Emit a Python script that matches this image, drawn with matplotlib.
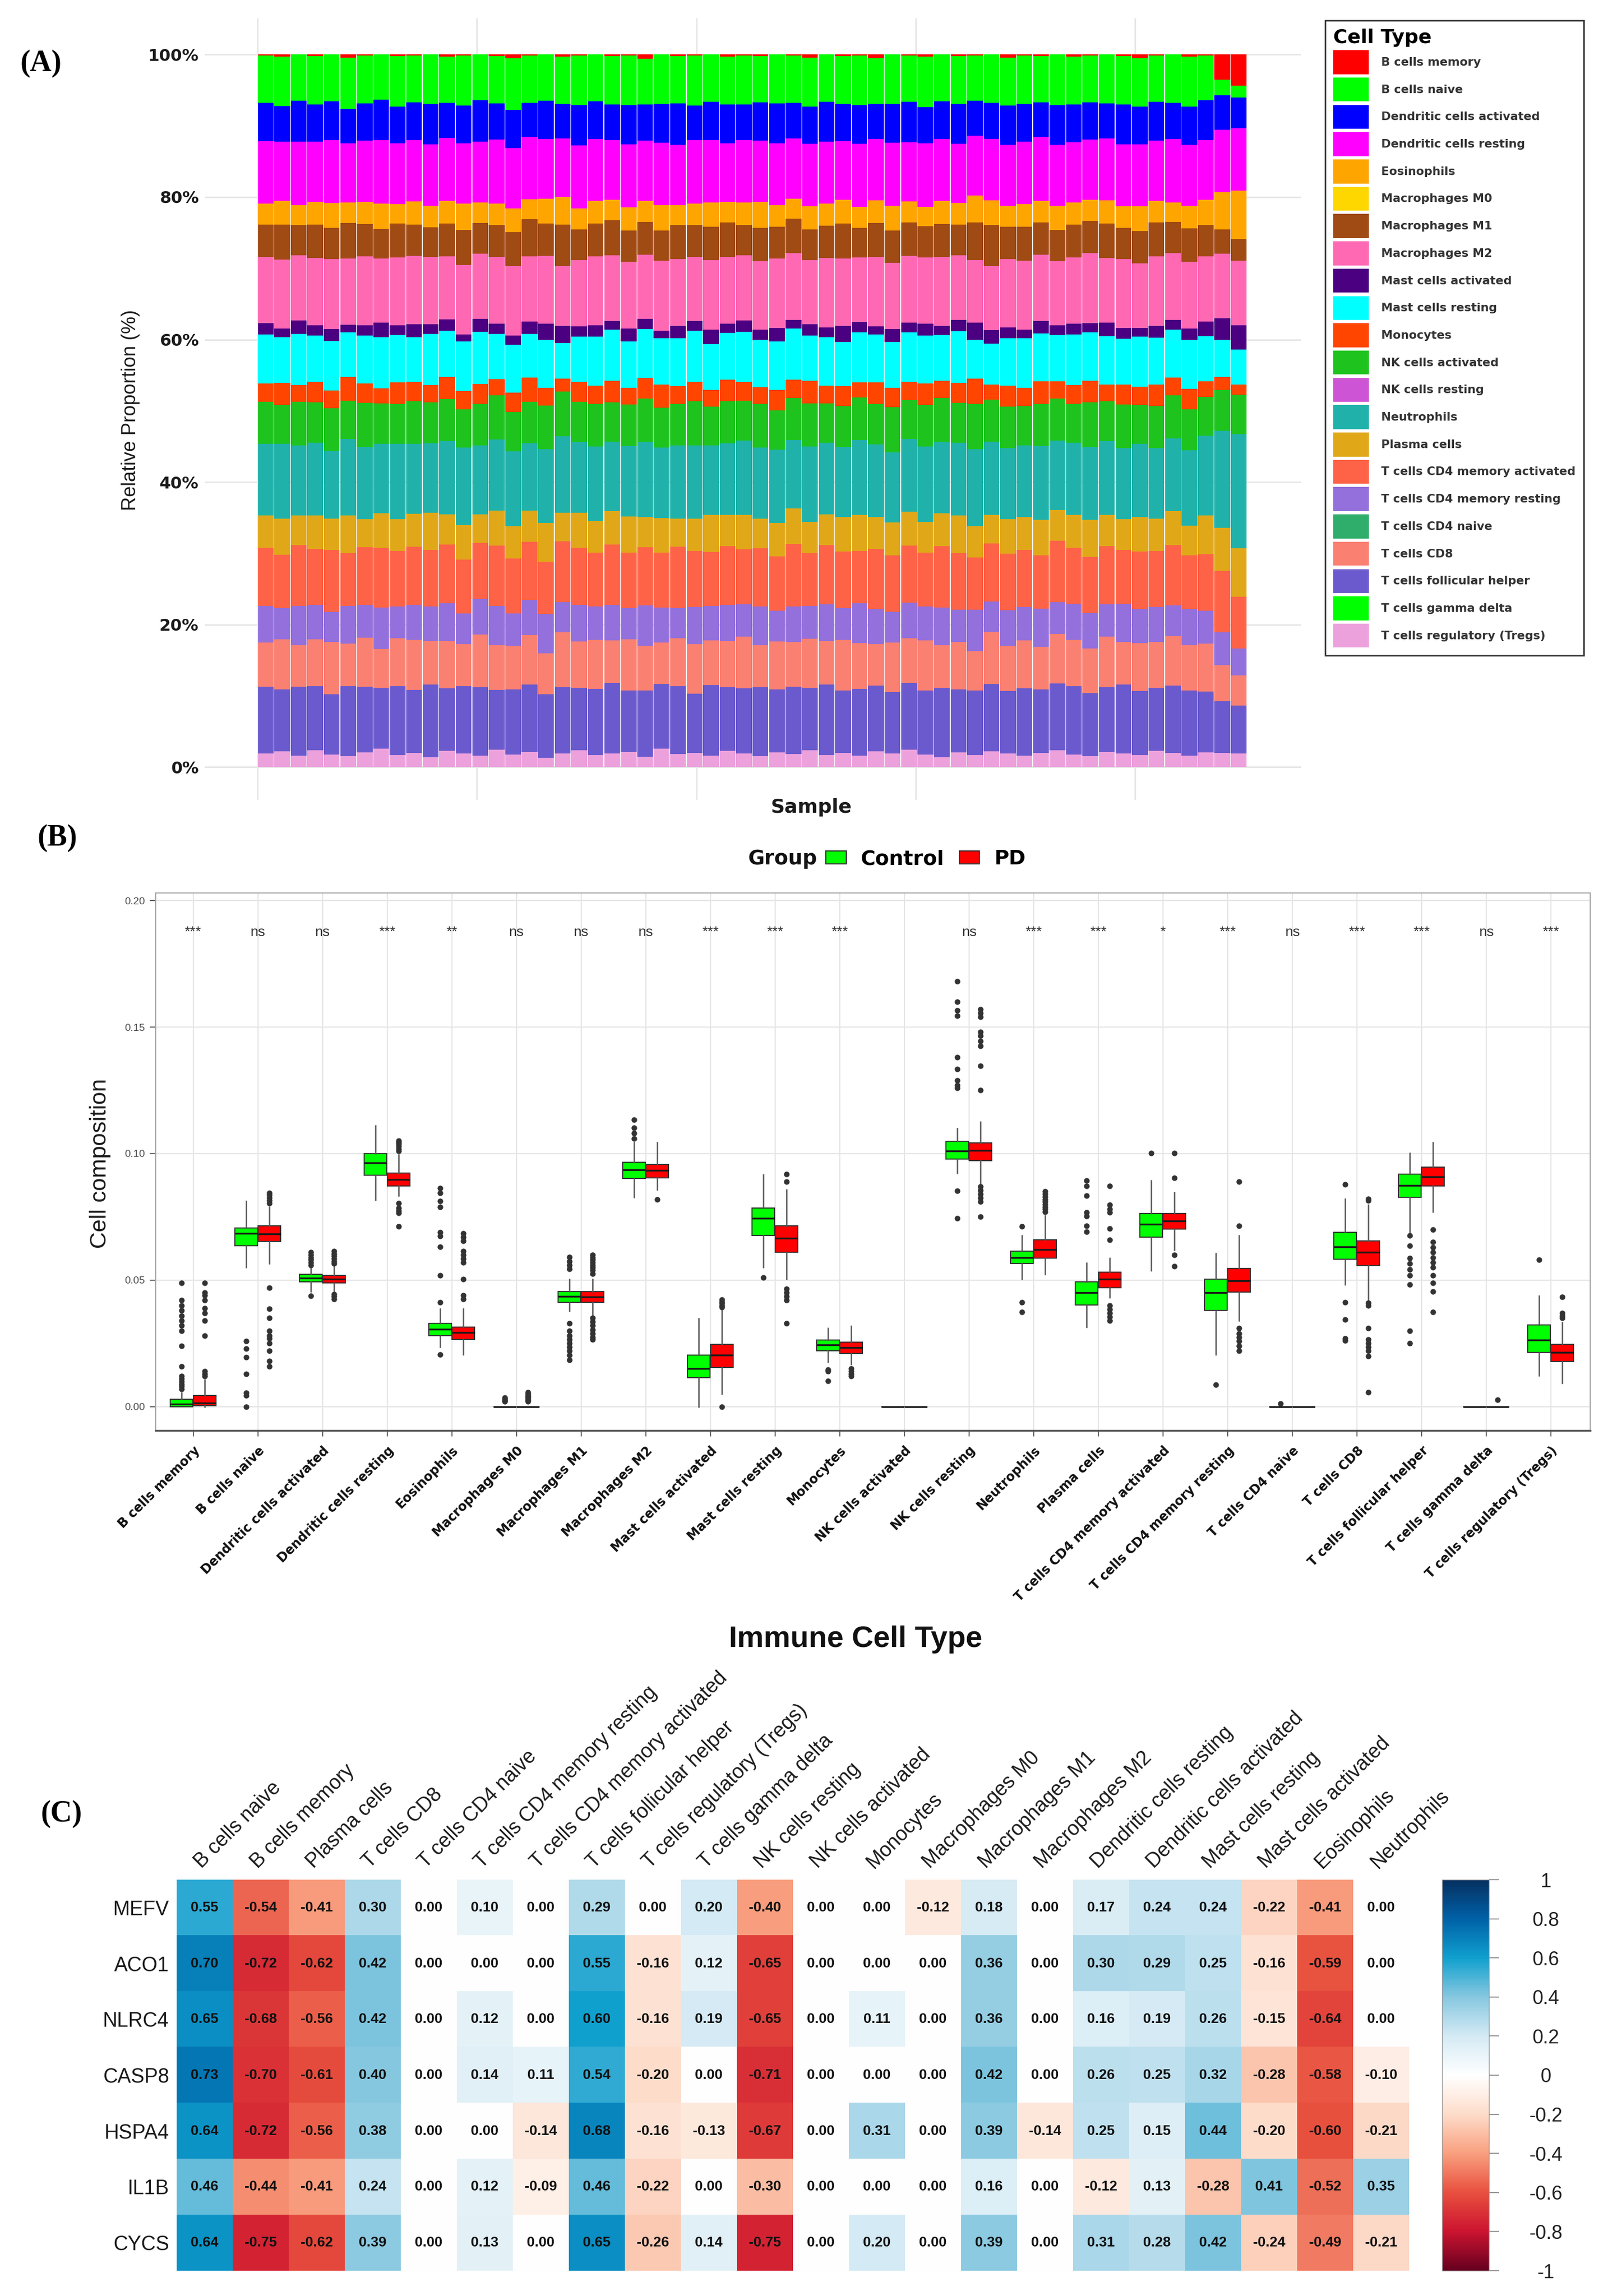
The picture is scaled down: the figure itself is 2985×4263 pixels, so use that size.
#Immune cell infiltration figure: (A) stacked relative proportions,
#(B) group boxplots per cell type, (C) gene / immune cell correlation heatmap

import numpy as np
import matplotlib as mpl
import matplotlib.pyplot as plt
from matplotlib.patches import Patch
from matplotlib.colors import LinearSegmentedColormap

W, H = 2985, 4263  # output size in pixels (dpi 100)

#%%
# ---------------- panel A data (percent per sample) ----------------
cell_types = ['B cells memory', 'B cells naive', 'Dendritic cells activated',
              'Dendritic cells resting', 'Eosinophils', 'Macrophages M0',
              'Macrophages M1', 'Macrophages M2', 'Mast cells activated',
              'Mast cells resting', 'Monocytes', 'NK cells activated',
              'NK cells resting', 'Neutrophils', 'Plasma cells',
              'T cells CD4 memory activated', 'T cells CD4 memory resting',
              'T cells CD4 naive', 'T cells CD8', 'T cells follicular helper',
              'T cells gamma delta', 'T cells regulatory (Tregs)']
cell_colors = ['#FF0000', '#00FF00', '#0000FF', '#FF00FF', '#FFA500', '#FFD700',
               '#A04A14', '#FF69B4', '#4B0082', '#00FFFF', '#FF4500', '#1EC31E',
               '#CD55D5', '#20B2AA', '#E0A818', '#FF6347', '#9370DB', '#2EAD6B',
               '#FA8072', '#6A5ACD', '#00FF00', '#EDA1DC']

b_mem = [0.1,0.3,0.0,0.2,0.0,0.4,0.1,0.0,0.2,0.1, 0.0,0.3,0.1,0.0,0.2,0.5,0.1,0.0,0.3,0.1,
         0.0,0.2,0.1,0.6,0.0,0.2,0.1,0.0,0.3,0.1, 0.2,0.0,0.1,0.4,0.0,0.2,0.1,0.5,0.0,0.1,
         0.3,0.0,0.2,0.1,0.0,0.4,0.1,0.2,0.0,0.3, 0.1,0.0,0.2,0.5,0.1,0.0,0.3,0.1,3.5,4.3]
b_naive = [6.7,7.0,6.5,6.9,6.6,7.2,6.8,6.4,7.1,6.7, 6.9,6.6,7.0,6.5,6.8,7.3,6.7,6.4,6.9,7.0,
           6.6,6.8,7.1,6.5,6.9,6.7,7.2,6.6,6.8,7.0, 6.5,6.9,6.7,7.1,6.6,6.8,7.0,6.4,6.9,6.7,
           7.2,6.6,6.8,6.5,7.0,6.7,6.9,6.6,7.1,6.8, 6.5,7.0,6.7,6.9,6.6,6.8,7.1,6.4,2.2,1.7]
dc_act = [5.4,5.0,5.7,5.2,5.5,4.9,5.3,5.8,5.1,5.4, 5.6,5.0,5.3,5.9,5.2,5.5,4.8,5.4,5.1,5.7,
          5.3,5.0,5.6,5.2,5.4,5.8,4.9,5.3,5.5,5.1, 5.4,5.7,5.0,5.3,5.6,5.2,5.5,4.9,5.4,5.8,
          5.1,5.3,5.6,5.0,5.2,5.5,5.3,4.9,5.7,5.4, 5.2,5.0,5.6,5.3,5.5,5.1,5.4,5.7,4.8,4.3]
dc_rest = [8.8,8.4,9.0,8.6,8.9,8.3,8.7,9.1,8.5,8.8, 8.6,9.0,8.4,8.7,9.2,8.5,8.8,8.3,8.6,8.9,
           8.7,8.4,9.0,8.6,8.8,8.5,9.1,8.7,8.4,8.9, 8.6,8.8,8.5,9.0,8.7,8.3,8.9,8.6,8.8,8.5,
           9.0,8.7,8.4,8.6,8.9,8.5,8.8,9.1,8.6,8.7, 8.4,8.9,8.6,8.8,8.5,9.0,8.7,8.6,8.7,8.7]
eos = [3.0,3.4,2.8,3.2,3.5,2.9,3.1,3.6,2.7,3.3, 3.0,3.2,3.7,2.9,3.1,3.4,2.8,3.5,4.0,3.0,
       3.2,2.9,3.3,3.0,3.5,2.8,3.1,3.4,2.9,3.2, 3.6,3.0,2.8,3.3,3.1,3.4,2.9,3.2,3.5,3.0,
       2.8,3.3,3.1,3.8,3.6,2.9,3.2,3.0,3.4,3.1, 2.9,3.3,3.0,3.5,3.1,2.8,3.2,3.6,5.2,6.8]
mac_m1 = [4.5,4.9,4.2,4.7,4.4,5.0,4.6,4.3,4.8,4.5, 4.1,4.7,4.9,4.4,4.6,4.8,5.2,4.5,6.1,4.3,
          4.6,4.9,4.4,4.7,4.2,4.8,4.5,4.6,4.9,4.3, 4.7,4.5,4.8,4.4,4.6,4.9,4.2,4.7,4.5,4.8,
          4.4,4.6,4.3,5.4,5.9,4.5,4.8,4.6,4.4,4.7, 4.5,4.9,4.3,4.6,4.8,4.4,4.7,4.5,3.4,3.0]
mac_m2 = [9.4,9.8,9.2,9.6,9.9,9.3,9.7,9.1,9.5,9.8, 9.4,9.0,9.7,9.3,9.6,9.9,9.2,9.5,8.8,9.4,
          9.7,9.3,9.6,9.1,9.8,9.4,9.2,9.7,9.5,9.3, 9.6,9.9,9.4,9.2,9.7,9.5,9.1,9.8,9.3,9.6,
          9.4,9.7,9.2,9.0,9.3,9.6,9.8,9.4,9.1,9.5, 9.7,9.3,9.6,9.2,9.8,9.4,9.5,9.3,9.0,9.1]
mast_act = [1.6,1.2,1.9,1.4,1.7,1.1,1.5,2.1,1.3,1.8, 1.4,1.6,1.0,1.9,1.5,1.3,1.7,2.2,2.5,1.4,
            1.6,1.2,1.8,1.5,1.1,1.7,1.4,2.0,1.3,1.6, 1.5,1.9,1.2,1.6,1.4,2.3,1.5,1.1,1.8,1.4,
            1.7,1.3,1.6,2.4,2.0,1.5,1.2,1.8,1.4,1.6, 1.3,1.9,1.5,1.2,1.7,1.4,1.6,2.1,3.0,3.4]
mast_rest = [6.9,6.5,7.2,6.6,7.0,6.3,6.8,7.3,6.7,6.4, 7.1,6.6,6.9,7.4,6.5,6.8,6.2,6.7,5.2,6.4,
             6.9,7.2,6.6,7.0,6.5,6.8,7.3,6.4,6.7,7.1, 6.6,6.9,7.2,6.5,6.8,6.3,7.0,6.7,6.4,7.1,
             6.8,6.5,7.3,5.6,5.9,6.6,7.0,6.8,6.5,7.2, 6.7,6.9,6.4,7.1,6.6,6.8,7.0,6.5,5.2,4.9]
mono = [2.6,3.1,2.3,2.9,2.5,3.3,2.7,2.2,3.0,2.8, 2.4,3.2,2.6,2.9,2.3,2.7,3.4,2.5,1.9,2.8,
        2.6,3.0,2.4,2.9,3.2,2.5,2.8,2.3,3.1,2.7, 2.4,2.9,2.6,3.3,2.5,2.8,2.2,3.0,2.7,2.6,
        3.1,2.4,2.8,3.6,2.2,2.9,2.6,3.2,2.5,2.7, 3.0,2.4,2.8,2.6,3.1,2.5,2.9,2.2,1.8,1.4]
nk_act = [5.9,5.5,6.2,5.7,6.0,5.4,6.3,5.8,5.6,6.1, 5.7,6.0,5.3,5.9,6.4,5.6,5.8,6.1,6.6,5.7,
          6.0,5.5,5.9,6.2,5.6,5.8,6.3,5.4,6.0,5.7, 6.1,5.6,5.9,6.2,5.5,5.8,6.0,5.7,6.3,5.6,
          5.9,6.2,5.7,6.5,6.1,5.8,5.5,6.0,5.9,5.6, 6.2,5.7,6.0,5.5,5.9,6.1,5.8,5.6,5.7,5.5]
neut = [10.1,10.6,9.8,10.3,9.6,10.8,10.2,9.9,10.5,10.0, 9.7,10.4,10.9,9.8,10.2,10.6,9.5,10.3,11.2,10.0,
        10.4,9.8,10.1,10.7,9.9,10.3,10.5,9.7,10.2,10.6, 10.0,10.4,9.6,10.8,10.1,9.9,10.5,10.2,9.8,10.4,
        10.7,10.0,10.3,11.0,10.6,9.9,10.2,10.5,9.8,10.3, 10.1,10.6,9.9,10.4,10.0,10.3,10.7,11.4,13.5,16.0]
plasma = [4.6,5.1,4.2,4.8,4.4,5.3,4.0,4.9,4.5,4.7, 5.2,4.3,4.8,4.1,5.0,4.6,4.4,5.4,4.2,4.9,
          4.5,4.7,5.1,4.3,4.8,4.0,4.6,5.2,4.4,4.9, 4.2,4.7,5.0,4.5,4.3,4.8,5.1,4.4,4.6,4.9,
          4.3,4.7,5.3,4.5,4.1,4.8,4.6,5.0,4.4,4.7, 5.2,4.5,4.3,4.9,4.6,4.8,4.2,5.5,6.0,6.8]
cd4_act = [8.2,7.6,8.5,7.9,8.8,7.4,8.1,8.6,7.7,8.3, 7.9,8.4,7.5,8.0,8.7,7.8,8.2,7.3,8.9,8.1,
           7.6,8.5,7.9,8.3,7.7,8.6,8.0,7.5,8.4,7.8, 8.1,7.7,8.8,7.6,8.3,8.0,7.4,8.5,7.9,8.2,
           7.7,8.6,8.0,7.5,8.4,7.9,8.1,7.6,8.7,8.0, 7.8,8.3,7.5,8.2,7.9,8.5,7.7,8.1,8.6,7.2]
cd4_rest = [5.1,4.4,5.6,4.9,4.2,5.3,4.7,5.9,4.5,5.0, 4.8,5.4,4.3,5.1,5.7,4.6,4.9,5.5,4.4,5.2,
            4.7,5.0,4.5,5.8,4.9,4.3,5.3,4.8,5.1,4.6, 5.5,4.4,5.0,4.7,5.2,4.5,5.6,4.9,4.3,5.1,
            4.8,5.3,4.6,5.9,4.4,5.0,4.7,5.4,4.5,5.2, 4.9,4.6,5.3,4.8,5.0,4.4,5.1,4.7,4.6,3.8]
cd8 = [6.3,7.1,5.8,6.6,7.4,6.0,6.9,5.6,6.7,7.2, 6.1,6.8,5.9,7.5,6.4,6.2,7.0,5.7,8.1,6.5,
       6.9,6.0,7.3,6.4,5.8,6.7,7.1,6.2,6.6,7.4, 5.9,6.8,6.3,7.0,6.1,7.2,6.5,5.8,6.9,6.4,
       7.1,6.0,6.7,5.6,7.6,6.3,6.8,6.1,7.0,6.6, 6.2,7.3,5.9,6.8,6.5,7.0,6.4,6.9,5.0,4.2]
tfh = [9.4,8.8,9.7,9.1,8.5,9.9,9.3,8.7,9.6,9.0, 10.1,8.9,9.4,9.8,8.6,9.2,9.5,8.9,9.7,8.8,
       9.3,9.9,8.7,9.4,9.0,9.6,8.5,9.8,9.1,9.3, 9.7,8.9,9.5,9.0,9.9,8.8,9.4,9.2,8.6,9.6,
       9.1,9.8,8.9,9.3,9.7,8.7,9.5,9.0,9.4,9.8, 8.8,9.2,9.6,9.1,8.9,9.5,9.3,8.7,7.2,6.7]
tregs = [1.9,2.2,1.6,2.4,1.8,1.5,2.1,2.6,1.7,2.0, 1.4,2.3,1.9,1.6,2.5,1.8,2.1,1.3,2.0,2.4,
         1.7,1.9,2.2,1.5,2.6,1.8,2.0,1.6,2.3,1.9, 1.5,2.1,1.8,2.4,1.7,2.0,1.6,2.2,1.9,2.5,
         1.8,1.4,2.1,1.7,2.3,1.9,1.6,2.0,2.4,1.8, 1.5,2.2,1.9,1.7,2.3,2.0,1.6,2.1,2.0,1.9]

n_samples = min(len(v) for v in [b_mem, b_naive, dc_act, dc_rest, eos, mac_m1, mac_m2,
                                 mast_act, mast_rest, mono, nk_act, neut, plasma,
                                 cd4_act, cd4_rest, cd8, tfh, tregs])
zeros = [0.0] * n_samples  # M0, NK resting, CD4 naive, gamma delta read as ~0

prop_A = [b_mem, b_naive, dc_act, dc_rest, eos, zeros, mac_m1, mac_m2, mast_act,
          mast_rest, mono, nk_act, zeros, neut, plasma, cd4_act, cd4_rest, zeros,
          cd8, tfh, zeros, tregs]
prop_A = np.array([v[:n_samples] for v in prop_A], dtype=float)
prop_A = prop_A / prop_A.sum(axis=0) * 100.0

#%%
# ---------------- panel B data (box stats) ----------------
box_types = cell_types
sig_labels = ['***', 'ns', 'ns', '***', '**', 'ns', 'ns', 'ns', '***', '***', '***', '',
              'ns', '***', '***', '*', '***', 'ns', '***', '***', 'ns', '***']

ctrl_lo  = [0.0, 0.055, 0.0455, 0.0816, 0.0236, 0.0, 0.0378, 0.0827, 0.0, 0.0550, 0.0176,
            0.0, 0.0924, 0.0505, 0.0314, 0.0538, 0.0206, 0.0, 0.0483, 0.0685, 0.0, 0.0124]
ctrl_q1  = [0.0, 0.0637, 0.0493, 0.0914, 0.0281, 0.0, 0.0413, 0.0902, 0.0114, 0.0677, 0.0221,
            0.0, 0.0979, 0.0565, 0.0401, 0.0670, 0.0381, 0.0, 0.0583, 0.0827, 0.0, 0.0214]
ctrl_med = [0.001, 0.0685, 0.0508, 0.0964, 0.0307, 0.0, 0.0435, 0.0936, 0.0151, 0.0745, 0.0244,
            0.0, 0.1010, 0.0590, 0.0450, 0.0722, 0.0450, 0.0, 0.0632, 0.0875, 0.0, 0.0263]
ctrl_q3  = [0.003, 0.0707, 0.0523, 0.0999, 0.0329, 0.0, 0.0456, 0.0966, 0.0203, 0.0785, 0.0263,
            0.0, 0.1048, 0.0615, 0.0493, 0.0763, 0.0505, 0.0, 0.0689, 0.0920, 0.0, 0.0323]
ctrl_hi  = [0.0055, 0.0812, 0.0555, 0.1110, 0.0386, 0.0, 0.0505, 0.1044, 0.0348, 0.0917, 0.0311,
            0.0, 0.1100, 0.0677, 0.0568, 0.0894, 0.0607, 0.0, 0.0822, 0.1002, 0.0, 0.0438]
ctrl_out = [[0.049, 0.042, 0.040, 0.038, 0.036, 0.034, 0.032, 0.030, 0.024, 0.016,
             0.012, 0.011, 0.010, 0.009, 0.008, 0.007],
            [0.026, 0.023, 0.0195, 0.013, 0.0055, 0.0045, 0.0],
            [0.061, 0.060, 0.059, 0.058, 0.057, 0.056, 0.0438],
            [],
            [0.0206, 0.0864, 0.0845, 0.0812, 0.0790, 0.0690, 0.0675, 0.0632, 0.0520, 0.0413],
            [0.0035, 0.003, 0.0025, 0.002],
            [0.0592, 0.0575, 0.0560, 0.0545, 0.0330, 0.0300, 0.0280, 0.0265, 0.0250,
             0.0235, 0.0220, 0.0205, 0.0185],
            [0.1133, 0.1103, 0.1080, 0.1060],
            [],
            [0.0511],
            [0.0147, 0.0140, 0.0102],
            [],
            [0.1680, 0.1600, 0.1565, 0.1545, 0.1380, 0.1335, 0.1290, 0.1270, 0.1260,
             0.0854, 0.0745],
            [0.0712, 0.0413, 0.0374],
            [0.0894, 0.0872, 0.0834, 0.0767, 0.0752, 0.0715, 0.0692],
            [0.1002],
            [0.0087],
            [0.0012],
            [0.0879, 0.0413, 0.0344, 0.0270, 0.0262],
            [0.0677, 0.0637, 0.0588, 0.0565, 0.0543, 0.0520, 0.0483, 0.0299, 0.0251],
            [],
            [0.0580]]

pd_lo  = [0.0, 0.0565, 0.0450, 0.0834, 0.0206, 0.0, 0.0360, 0.0857, 0.0050, 0.0505, 0.0168,
          0.0, 0.0880, 0.0523, 0.0431, 0.0618, 0.0340, 0.0, 0.0416, 0.0770, 0.0, 0.0094]
pd_q1  = [0.0003, 0.0652, 0.0490, 0.0872, 0.0266, 0.0, 0.0413, 0.0905, 0.0154, 0.0610, 0.0211,
          0.0, 0.0972, 0.0588, 0.0471, 0.0703, 0.0452, 0.0, 0.0558, 0.0872, 0.0, 0.0179]
pd_med = [0.0015, 0.0682, 0.0505, 0.0897, 0.0293, 0.0, 0.0433, 0.0934, 0.0203, 0.0665, 0.0233,
          0.0, 0.1013, 0.0622, 0.0505, 0.0733, 0.0498, 0.0, 0.0610, 0.0909, 0.0, 0.0214]
pd_q3  = [0.0045, 0.0715, 0.0520, 0.0924, 0.0315, 0.0, 0.0456, 0.0958, 0.0247, 0.0715, 0.0256,
          0.0, 0.1043, 0.0660, 0.0531, 0.0763, 0.0546, 0.0, 0.0655, 0.0946, 0.0, 0.0247]
pd_hi  = [0.0105, 0.0790, 0.0555, 0.0995, 0.0386, 0.0, 0.0505, 0.1044, 0.0385, 0.0857, 0.0318,
          0.0, 0.1126, 0.0755, 0.0588, 0.0846, 0.0677, 0.0, 0.0797, 0.1044, 0.0, 0.0333]
pd_out = [[0.049, 0.045, 0.044, 0.042, 0.039, 0.037, 0.034, 0.028, 0.014, 0.013, 0.012],
          [0.0845, 0.0835, 0.0825, 0.0815, 0.0805, 0.047, 0.0386, 0.035, 0.030, 0.028,
           0.027, 0.025, 0.022, 0.018, 0.016],
          [0.0615, 0.0605, 0.0595, 0.0585, 0.0575, 0.0565, 0.0445, 0.0435, 0.0425],
          [0.1052, 0.1045, 0.1038, 0.1030, 0.1020, 0.1010, 0.0805, 0.0785, 0.0775, 0.0765, 0.0712],
          [0.0685, 0.0670, 0.0655, 0.0615, 0.0600, 0.0585, 0.0570, 0.0505, 0.0440, 0.0425],
          [0.0058, 0.005, 0.0045, 0.004, 0.0035, 0.003, 0.0025, 0.002],
          [0.0600, 0.0590, 0.0580, 0.0570, 0.0560, 0.0550, 0.0540, 0.0525, 0.0350, 0.0335,
           0.0320, 0.0305, 0.0290, 0.0275, 0.0265],
          [0.0819],
          [0.0423, 0.0415, 0.0408, 0.0400, 0.0393, 0.0],
          [0.0920, 0.0890, 0.0465, 0.0450, 0.0435, 0.0420, 0.0330],
          [0.0150, 0.0140, 0.0130, 0.0120],
          [],
          [0.1570, 0.1555, 0.1540, 0.1480, 0.1465, 0.1445, 0.1425, 0.1347, 0.1251,
           0.0870, 0.0855, 0.0840, 0.0825, 0.0810, 0.0750],
          [0.0850, 0.0840, 0.0830, 0.0820, 0.0810, 0.0800, 0.0790, 0.0780, 0.0770],
          [0.0872, 0.0797, 0.0780, 0.0767, 0.0704, 0.0659, 0.0400, 0.0385, 0.0370, 0.0355, 0.0340],
          [0.1002, 0.0905, 0.0600, 0.0555],
          [0.0890, 0.0715, 0.0310, 0.0290, 0.0275, 0.0260, 0.0240, 0.0222],
          [],
          [0.0822, 0.0815, 0.0410, 0.0400, 0.0310, 0.0266, 0.0250, 0.0235, 0.0220, 0.0200, 0.0057],
          [0.0700, 0.0650, 0.0630, 0.0610, 0.0590, 0.0570, 0.0550, 0.0520, 0.0490, 0.0455, 0.0374],
          [0.0027],
          [0.0434, 0.0370, 0.0360, 0.0350]]

#%%
# ---------------- panel C data (correlation values printed in the cells) ----------------
genes = ['MEFV', 'ACO1', 'NLRC4', 'CASP8', 'HSPA4', 'IL1B', 'CYCS']
heat_cols = ['B cells naive', 'B cells memory', 'Plasma cells', 'T cells CD8',
             'T cells CD4 naive', 'T cells CD4 memory resting', 'T cells CD4 memory activated',
             'T cells follicular helper', 'T cells regulatory (Tregs)', 'T cells gamma delta',
             'NK cells resting', 'NK cells activated', 'Monocytes', 'Macrophages M0',
             'Macrophages M1', 'Macrophages M2', 'Dendritic cells resting',
             'Dendritic cells activated', 'Mast cells resting', 'Mast cells activated',
             'Eosinophils', 'Neutrophils']
corr_mefv  = [0.55, -0.54, -0.41, 0.30, 0.00, 0.10, 0.00, 0.29, 0.00, 0.20, -0.40,
              0.00, 0.00, -0.12, 0.18, 0.00, 0.17, 0.24, 0.24, -0.22, -0.41, 0.00]
corr_aco1  = [0.70, -0.72, -0.62, 0.42, 0.00, 0.00, 0.00, 0.55, -0.16, 0.12, -0.65,
              0.00, 0.00, 0.00, 0.36, 0.00, 0.30, 0.29, 0.25, -0.16, -0.59, 0.00]
corr_nlrc4 = [0.65, -0.68, -0.56, 0.42, 0.00, 0.12, 0.00, 0.60, -0.16, 0.19, -0.65,
              0.00, 0.11, 0.00, 0.36, 0.00, 0.16, 0.19, 0.26, -0.15, -0.64, 0.00]
corr_casp8 = [0.73, -0.70, -0.61, 0.40, 0.00, 0.14, 0.11, 0.54, -0.20, 0.00, -0.71,
              0.00, 0.00, 0.00, 0.42, 0.00, 0.26, 0.25, 0.32, -0.28, -0.58, -0.10]
corr_hspa4 = [0.64, -0.72, -0.56, 0.38, 0.00, 0.00, -0.14, 0.68, -0.16, -0.13, -0.67,
              0.00, 0.31, 0.00, 0.39, -0.14, 0.25, 0.15, 0.44, -0.20, -0.60, -0.21]
corr_il1b  = [0.46, -0.44, -0.41, 0.24, 0.00, 0.12, -0.09, 0.46, -0.22, 0.00, -0.30,
              0.00, 0.00, 0.00, 0.16, 0.00, -0.12, 0.13, -0.28, 0.41, -0.52, 0.35]
corr_cycs  = [0.64, -0.75, -0.62, 0.39, 0.00, 0.13, 0.00, 0.65, -0.26, 0.14, -0.75,
              0.00, 0.20, 0.00, 0.39, 0.00, 0.31, 0.28, 0.42, -0.24, -0.49, -0.21]
corr_vals = np.array([corr_mefv, corr_aco1, corr_nlrc4, corr_casp8, corr_hspa4,
                      corr_il1b, corr_cycs])
cbar_ticks = [-1, -0.8, -0.6, -0.4, -0.2, 0, 0.2, 0.4, 0.6, 0.8, 1]
cbar_labels = ['-1', '-0.8', '-0.6', '-0.4', '-0.2', '0', '0.2', '0.4', '0.6', '0.8', '1']

# red-white-blue ramp as seen on the colour key
corr_cmap = LinearSegmentedColormap.from_list(
    'corr_rdbu', ['#67001F', '#CC1430', '#E8503E', '#F9A080', '#FDDCCA', '#FFFFFF',
                  '#D4EAF4', '#88C8E0', '#10A0CE', '#0062A8', '#053061'])

#%%
# ---------------- figure ----------------
plt.rcParams['font.family'] = ['DejaVu Sans']
fig = plt.figure(figsize=(W / 100, H / 100), dpi=100)

def box(x0, y0, x1, y1):
    # pixel box (top-left origin) -> figure fraction rect
    return [x0 / W, 1 - y1 / H, (x1 - x0) / W, (y1 - y0) / H]

serif = ['Liberation Serif', 'DejaVu Serif']
arial = ['Liberation Sans', 'DejaVu Sans']
narrow = ['Liberation Sans Narrow', 'Liberation Sans', 'DejaVu Sans']

fig.text(37 / W, 1 - 118 / H, '(A)', ha='left', va='center', fontsize=40,
         fontweight='bold', family=serif)
fig.text(70 / W, 1 - 1556 / H, '(B)', ha='left', va='center', fontsize=40,
         fontweight='bold', family=serif)
fig.text(76 / W, 1 - 3368 / H, '(C)', ha='left', va='center', fontsize=40,
         fontweight='bold', family=serif)

#----- panel A: stacked bars -----
axA = fig.add_axes(box(380, 34, 2415, 1485))
xs = np.arange(n_samples)
bottom = np.zeros(n_samples)
for k in range(len(cell_types) - 1, -1, -1):
    axA.bar(xs, prop_A[k], bottom=bottom, width=0.96, color=cell_colors[k],
            linewidth=0, zorder=2)
    bottom = bottom + prop_A[k]

ref_total, ref_step = 451, 100   # sample-axis breaks of the original
axA.set_xlim(-0.5 - 0.0533 * n_samples, n_samples - 0.5 + 0.0544 * n_samples)
axA.set_xticks([-0.5 + n_samples * k * ref_step / ref_total for k in range(5)])
axA.set_xticklabels([])
axA.set_ylim(-4.6, 105.1)
axA.set_yticks([0, 20, 40, 60, 80, 100])
axA.set_yticklabels(['0%', '20%', '40%', '60%', '80%', '100%'], fontsize=22,
                    fontweight='bold', color='#1a1a1a')
axA.tick_params(length=0, pad=8)
axA.grid(True, color='#E6E6E6', linewidth=2)
axA.set_axisbelow(True)
for s in axA.spines.values():
    s.set_visible(False)
fig.text(243 / W, 1 - 761 / H, 'Relative Proportion (%)', rotation=90, ha='center',
         va='center', fontsize=26, family=arial, color='#1a1a1a')
fig.text(1506 / W, 1 - 1499 / H, 'Sample', ha='center', va='center', fontsize=26,
         fontweight='bold', color='#1a1a1a')

handles_A = [Patch(facecolor=c, edgecolor='none') for c in cell_colors]
legA = fig.legend(handles_A, cell_types, loc='upper left',
                  bbox_to_anchor=(2460 / W, 1 - 38 / H), bbox_transform=fig.transFigure,
                  title='Cell Type', alignment='left',
                  title_fontproperties={'weight': 'bold', 'size': 26},
                  prop={'weight': 'bold', 'size': 15.5}, labelcolor='#333333',
                  handlelength=3.07, handleheight=2.8, handletextpad=1.07,
                  labelspacing=0.29, borderpad=0.7, borderaxespad=0,
                  fancybox=False, framealpha=1)
legA.get_frame().set_edgecolor('#333333')
legA.get_frame().set_linewidth(2)

#----- panel B: boxplots -----
axB = fig.add_axes(box(289, 1658, 2952, 2656))
pos = np.arange(len(box_types))

def make_stats(lo, q1, med, q3, hi, out):
    return [dict(whislo=lo[i], q1=q1[i], med=med[i], q3=q3[i], whishi=hi[i],
                 fliers=out[i]) for i in range(len(lo))]

for stats, off, fc in [(make_stats(ctrl_lo, ctrl_q1, ctrl_med, ctrl_q3, ctrl_hi, ctrl_out), -0.18, '#00FF00'),
                       (make_stats(pd_lo, pd_q1, pd_med, pd_q3, pd_hi, pd_out), 0.18, '#FF0000')]:
    axB.bxp(stats, positions=pos + off, widths=0.35, patch_artist=True, showcaps=False,
            boxprops=dict(facecolor=fc, edgecolor='#333333', linewidth=1.4),
            medianprops=dict(color='#1a1a1a', linewidth=2.4),
            whiskerprops=dict(color='#555555', linewidth=1.8),
            flierprops=dict(marker='o', markerfacecolor='#333333',
                            markeredgecolor='#333333', markersize=6.5),
            manage_ticks=False, zorder=3)

for i, lab in enumerate(sig_labels):
    axB.text(pos[i], 0.186, lab, ha='center', va='baseline', fontsize=19,
             family=arial, color='#333333')

axB.set_xlim(-0.58, len(box_types) - 1 + 0.61)
axB.set_ylim(-0.0094, 0.203)
axB.set_xticks(pos)
axB.set_xticklabels(box_types, rotation=45, ha='right', va='top', rotation_mode='anchor',
                    fontsize=17, fontweight='bold', color='#111111')
axB.set_yticks([0.0, 0.05, 0.10, 0.15, 0.20])
axB.set_yticklabels(['0.00', '0.05', '0.10', '0.15', '0.20'], fontsize=14, family=arial,
                    color='#4D4D4D')
axB.tick_params(axis='x', length=8, width=1.5, color='#666666', pad=10)
axB.tick_params(axis='y', length=8, width=1.5, color='#666666', pad=6)
axB.grid(True, color='#E5E5E5', linewidth=1.6)
axB.set_axisbelow(True)
for s in axB.spines.values():
    s.set_color('#AAAAAA')
    s.set_linewidth(1.5)
axB.spines['bottom'].set_color('#555555')
axB.spines['bottom'].set_linewidth(2.5)

fig.text(186 / W, 1 - 2160 / H, 'Cell composition', rotation=90, ha='center',
         va='center', fontsize=31, family=arial, color='#1a1a1a')
fig.text(1588 / W, 1 - 3044 / H, 'Immune Cell Type', ha='center', va='center',
         fontsize=40, fontweight='bold', family=narrow, color='#111111')

fig.text(1388 / W, 1 - 1595 / H, 'Group', ha='left', va='center', fontsize=27,
         fontweight='bold', color='#111111')
handles_B = [Patch(facecolor='#00FF00', edgecolor='#333333', linewidth=1.5),
             Patch(facecolor='#FF0000', edgecolor='#333333', linewidth=1.5)]
fig.legend(handles_B, ['Control', 'PD'], loc='center left',
           bbox_to_anchor=(1533 / W, 1 - 1595 / H), bbox_transform=fig.transFigure,
           ncol=2, frameon=False, prop={'weight': 'bold', 'size': 27},
           handlelength=1.0, handleheight=0.62, handletextpad=0.72,
           columnspacing=0.75, borderpad=0, borderaxespad=0)

#----- panel C: correlation heatmap -----
axC = fig.add_axes(box(328, 3490, 2616, 4216))
im = axC.imshow(corr_vals, cmap=corr_cmap, vmin=-1, vmax=1, aspect='auto',
                interpolation='nearest')
for r in range(corr_vals.shape[0]):
    for c in range(corr_vals.shape[1]):
        axC.text(c, r, '%.2f' % corr_vals[r, c], ha='center', va='center',
                 fontsize=19, fontweight='bold', family=narrow, color='#111111')
axC.xaxis.tick_top()
axC.set_xticks(np.arange(len(heat_cols)))
axC.set_xticklabels(heat_cols, rotation=45, ha='left', va='bottom', rotation_mode='anchor',
                    fontsize=27, family=arial, color='#1a1a1a')
axC.set_yticks(np.arange(len(genes)))
axC.set_yticklabels(genes, fontsize=27, family=arial, color='#1a1a1a')
axC.tick_params(length=0, pad=10)
for s in axC.spines.values():
    s.set_visible(False)

cax = fig.add_axes(box(2677, 3490, 2764, 4216))
cb = fig.colorbar(im, cax=cax, ticks=cbar_ticks)
cb.ax.set_yticklabels(cbar_labels, fontsize=26, family=arial, color='#222222', ha='center')
cb.ax.tick_params(direction='out', length=14, width=1.5, color='#999999', pad=62)
cb.outline.set_edgecolor('#999999')
cb.outline.set_linewidth(1)

fig.savefig('out.png', dpi=100)
